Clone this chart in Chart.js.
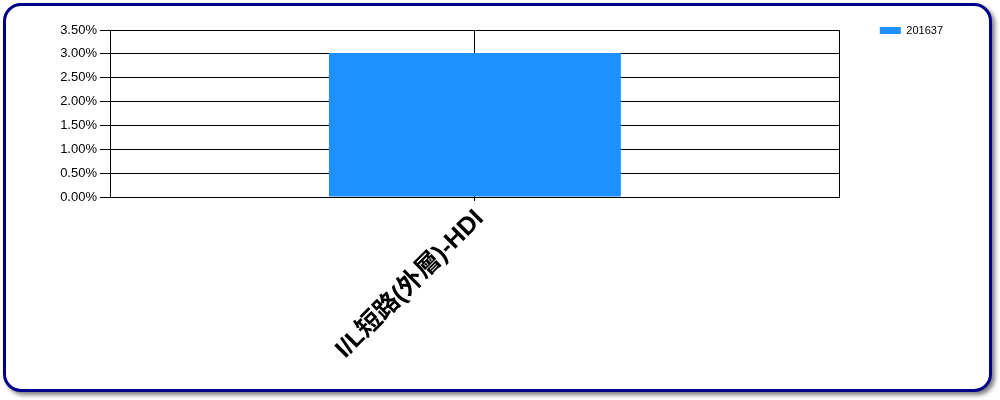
<!DOCTYPE html>
<html>
<head>
<meta charset="utf-8">
<script src="https://cdn.jsdelivr.net/npm/chart.js@4/dist/chart.umd.min.js"></script>
<style>
  html, body { margin: 0; padding: 0; background: #fff; }
  #wrap { position: relative; width: 1000px; height: 400px; }
  #frame {
    position: absolute; left: 3px; top: 3px; width: 989px; height: 389px;
    box-sizing: border-box; border: 3px solid #00008B; border-radius: 18px;
    box-shadow: 3px 3px 4px rgba(0,0,0,0.5); background: #fff;
  }
  #c { position: absolute; left: 0; top: 0; }
</style>
</head>
<body>
<div id="wrap">
  <div id="frame"></div>
  <canvas id="c" width="1000" height="400"></canvas>
</div>
<script>
const categories = ['I/L短路(外層)-HDI'];
const seriesName = '201637';
const seriesValues = [3.02];
const yTickMin = 0;
const yTickMax = 3.5;
const yTickStep = 0.5;

new Chart(document.getElementById('c'), {
  type: 'bar',
  data: {
    labels: categories,
    datasets: [{
      label: seriesName,
      data: seriesValues,
      backgroundColor: '#1E90FF',
      borderWidth: 0,
      barPercentage: 0.5,
      categoryPercentage: 0.8
    }]
  },
  options: {
    responsive: false,
    animation: false,
    layout: { padding: { left: 6, top: 20, right: 47, bottom: 0 } },
    plugins: {
      tooltip: { enabled: false },
      legend: {
        position: 'right',
        align: 'start',
        labels: {
          boxWidth: 21, boxHeight: 7, padding: 5, color: '#000',
          font: { family: 'Liberation Sans, Arial, sans-serif', size: 11 }
        }
      }
    },
    scales: {
      x: {
        type: 'category',
        position: 'bottom',
        offset: true,
        grid: { offset: false, color: '#000', lineWidth: 1, tickLength: 4, drawOnChartArea: true },
        border: { display: true, color: '#000' },
        ticks: {
          autoSkip: false, maxRotation: 45, minRotation: 45, padding: 3, labelOffset: 5, color: '#000',
          font: { family: 'Liberation Sans, Arial, "Noto Sans CJK TC", sans-serif', size: 25, weight: 'bold' }
        },
        afterFit: (s) => { s.height = 203; }
      },
      x2: {
        type: 'category',
        position: 'top',
        labels: categories,
        offset: true,
        grid: { offset: true, color: '#000', lineWidth: 1, drawTicks: false, drawOnChartArea: true },
        border: { display: false },
        ticks: { display: false },
        afterFit: (s) => { s.height = 10; }
      },
      y: {
        position: 'left',
        min: yTickMin,
        max: yTickMax,
        grid: { color: '#000', lineWidth: 1, tickLength: 10 },
        border: { display: true, color: '#000' },
        ticks: {
          stepSize: yTickStep, padding: 3, color: '#000',
          font: { family: 'Liberation Sans, Arial, sans-serif', size: 13 },
          callback: (v) => Number(v).toFixed(2) + '%'
        },
        afterFit: (s) => { s.width = 104; }
      },
      y2: {
        position: 'right',
        display: true,
        grid: { display: false, drawTicks: false },
        border: { display: false },
        ticks: { display: false },
        afterFit: (s) => { s.width = 35; }
      }
    }
  }
});
</script>
</body>
</html>
